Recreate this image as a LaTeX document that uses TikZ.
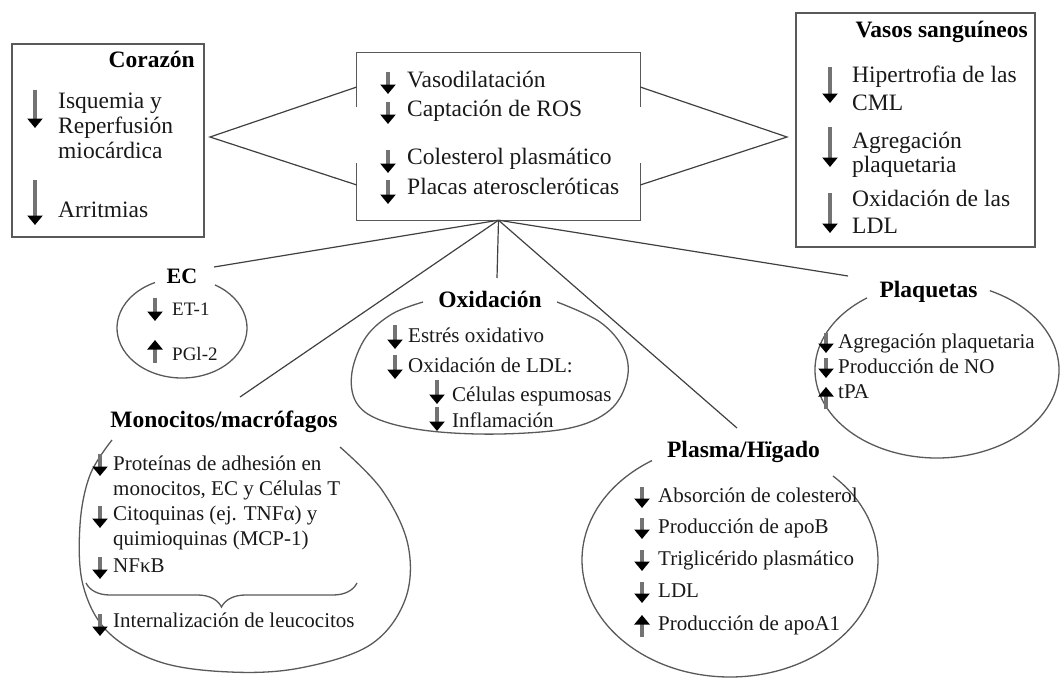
\documentclass[tikz,border=0pt]{standalone}
\usepackage{fontspec}
\setmainfont{Liberation Serif}
\usetikzlibrary{arrows.meta,calc,decorations.pathreplacing}
\begin{document}
\begin{tikzpicture}[x=1pt,y=-1pt,
  frame/.style={draw=black!65, line width=1.3pt},
  edge/.style={draw=black!75, line width=1.2pt},
  darr/.style={draw=black!55, line width=3.4pt, -{Triangle[length=9.5pt,width=15pt,black]}},
  lbl/.style={anchor=base west, inner sep=0pt, text=black!90},
  bigtxt/.style={lbl, font=\fontsize{23.5pt}{28pt}\selectfont},
  midtxt/.style={lbl, font=\fontsize{21pt}{25pt}\selectfont},
  smalltxt/.style={lbl, font=\fontsize{19pt}{23pt}\selectfont},
  title/.style={anchor=base, inner sep=0pt, text=black, font=\bfseries\fontsize{23.5pt}{28pt}\selectfont},
]
\useasboundingbox (0,0) rectangle (1063,678);

% ---- framed boxes ----
\node[frame, minimum width=192, minimum height=193, inner sep=0pt] (cor) at (108,140.5) {};
\node[frame, minimum width=239, minimum height=234, inner sep=0pt] (vas) at (915.5,130) {};
\node[minimum width=283, minimum height=167, inner sep=0pt] (mid) at (498.5,136.5) {};

% central box: sides open between the two groups
\draw[frame] ($(mid.west)+(0,-29.5)$) -- (mid.north west) -- (mid.north east) -- ($(mid.east)+(0,-29.5)$);
\draw[frame] ($(mid.west)+(0,26.5)$) -- (mid.south west) -- (mid.south east) -- ($(mid.east)+(0,26.5)$);

% chevrons joining the side boxes to the central box
\coordinate (corTip) at (210,137);
\coordinate (vasTip) at (787,137);
\draw[edge] ($(mid.west)+(0,-49.5)$) -- (corTip) -- ($(mid.west)+(0,48.5)$);
\draw[edge] ($(mid.east)+(0,-49.5)$) -- (vasTip) -- ($(mid.east)+(0,48.5)$);

% ---- Corazón ----
\node[title, anchor=base east] (corT) at (195,67) {Corazón};
\draw[darr] (35,90) -- (35,128);
\node[bigtxt] (cor1) at (58,108) {Isquemia y};
\node[bigtxt] (cor2) at (58,133) {Reperfusión};
\node[bigtxt] (cor3) at (58,158) {miocárdica};
\draw[darr] (35,180) -- (35,225);
\node[bigtxt] (cor4) at (58,217) {Arritmias};

% ---- central effects ----
\draw[darr] (388,72) -- (388,94);
\node[bigtxt] (m1) at (407,87) {Vasodilatación};
\draw[darr] (388,102) -- (388,124);
\node[bigtxt] (m2) at (407,116) {Captación de ROS};
\draw[darr] (388,150) -- (388,173);
\node[bigtxt] (m3) at (407,164) {Colesterol plasmático};
\draw[darr] (388,180) -- (388,204);
\node[bigtxt] (m4) at (407,194) {Placas ateroscleróticas};

% ---- Vasos sanguíneos ----
\node[title, anchor=base east] (vasT) at (1028,37) {Vasos sanguíneos};
\draw[darr] (830,67) -- (830,103);
\node[bigtxt] (v1) at (852,82) {Hipertrofia de las};
\node[bigtxt] (v2) at (852,110) {CML};
\draw[darr] (830,127) -- (830,167);
\node[bigtxt] (v3) at (852,148) {Agregación};
\node[bigtxt] (v4) at (852,172) {plaquetaria};
\draw[darr] (830,193) -- (830,233);
\node[bigtxt] (v5) at (852,206) {Oxidación de las};
\node[bigtxt] (v6) at (852,233) {LDL};

% ---- fan of connectors from the central box ----
\coordinate (ecEnd) at (214,267);
\coordinate (monoEnd) at (240,397);
\coordinate (oxEnd) at (497,278);
\coordinate (plasEnd) at (737,428);
\coordinate (plaqEnd) at (848,276);
\foreach \e in {ecEnd,monoEnd,oxEnd,plasEnd,plaqEnd}
  \draw[edge] (mid.south) -- (\e);

% ---- EC ----
\coordinate (ecC) at (182,328);
\draw[frame] (ecC) ++(-59.5:65 and 50) arc[start angle=-59.5, end angle=245.5, x radius=65, y radius=50];
\node[title, font=\bfseries\fontsize{22pt}{26pt}\selectfont] (ecT) at (182,283) {EC};
\draw[darr] (155,298) -- (155,321);
\node[smalltxt] (ec1) at (172,315) {ET-1};
\draw[darr] (155,363) -- (155,340);
\node[smalltxt] (ec2) at (172,360) {PGl-2};

% ---- Oxidación ----
\draw[frame] plot[smooth, tension=0.6] coordinates {(557,302) (600,322) (624,350) (627,380) (610,410) (570,428) (500,434) (430,431) (380,420) (356,402) (352,372) (366,337) (392,314) (423,302)};
\node[title] (oxT) at (490,307) {Oxidación};
\draw[darr] (395,325) -- (395,349);
\node[midtxt] (ox1) at (408,342) {Estrés oxidativo};
\draw[darr] (395,355) -- (395,379);
\node[midtxt] (ox2) at (408,372) {Oxidación de LDL:};
\draw[darr] (437,380) -- (437,404);
\node[midtxt] (ox3) at (452,401) {Células espumosas};
\draw[darr] (437,407) -- (437,431);
\node[midtxt] (ox4) at (452,427) {Inflamación};

% ---- Plaquetas ----
\coordinate (plC) at (937,370);
\draw[frame] (plC) ++(-64.3:122 and 88) arc[start angle=-64.3, end angle=235, x radius=122, y radius=88];
\node[title] (plT) at (928.5,297) {Plaquetas};
\draw[darr] (826,333) -- (826,353);
\node[midtxt] (pl1) at (838,348) {Agregación plaquetaria};
\draw[darr] (826,358) -- (826,378);
\node[midtxt] (pl2) at (838,373) {Producción de NO};
\draw[darr] (826,409) -- (826,387);
\node[midtxt] (pl3) at (838,398) {tPA};

% ---- Monocitos/macrófagos ----
\draw[frame] plot[smooth, tension=0.6] coordinates {(340,447) (382,490) (408,545) (405,600) (370,645) (300,668) (230,672) (160,662) (108,632) (83,585) (80,525) (90,475) (112,440)};
\node[title] (moT) at (224,427) {Monocitos/macrófagos};
\draw[darr] (100,454) -- (100,476);
\node[midtxt] (mo1) at (113,470) {Proteínas de adhesión en};
\node[midtxt] (mo2) at (113,495) {monocitos, EC y Células T};
\draw[darr] (100,506) -- (100,528);
\node[midtxt] (mo3) at (113,520) {Citoquinas (ej. TNFα) y};
\node[midtxt] (mo4) at (113,545) {quimioquinas (MCP-1)};
\draw[darr] (100,557) -- (100,579);
\node[midtxt] (mo5) at (113,572) {NFκB};
\draw[frame, decorate, decoration={brace, amplitude=24pt, mirror}] (86,583) -- (357,583);
\draw[darr] (100,614) -- (100,636);
\node[midtxt] (mo6) at (113,627) {Internalización de leucocitos};

% ---- Plasma/Hígado ----
\coordinate (paC) at (730,560);
\draw[frame] (paC) ++(-45.9:148 and 117) arc[start angle=-45.9, end angle=238.2, x radius=148, y radius=117];
\node[title] (paT) at (743.5,457) {Plasma/Hïgado};
\draw[darr] (642,487) -- (642,508);
\node[midtxt] (pa1) at (658,502) {Absorción de colesterol};
\draw[darr] (642,518) -- (642,539);
\node[midtxt] (pa2) at (658,533) {Producción de apoB};
\draw[darr] (642,550) -- (642,571);
\node[midtxt] (pa3) at (658,565) {Triglicérido plasmático};
\draw[darr] (642,582) -- (642,603);
\node[midtxt] (pa4) at (658,597) {LDL};
\draw[darr] (642,637) -- (642,615);
\node[midtxt] (pa5) at (658,630) {Producción de apoA1};
\end{tikzpicture}
\end{document}
